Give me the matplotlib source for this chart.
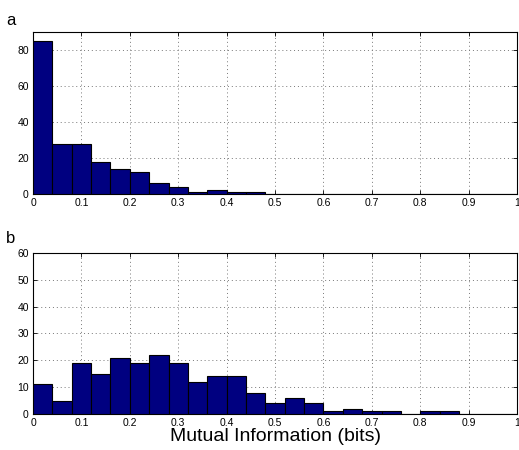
import matplotlib
matplotlib.use('Agg')
import matplotlib.pyplot as plt
import numpy as np

plt.rcParams['font.family'] = ['Liberation Sans', 'DejaVu Sans']

# histogram bins (width 0.04) and counts
bin_edges = [round(0.04 * i, 2) for i in range(26)]
counts_a = [85, 28, 28, 18, 14, 12, 6, 4, 1, 2, 1, 1, 0,
            0, 0, 0, 0, 0, 0, 0, 0, 0, 0, 0, 0]
counts_b = [11, 5, 19, 15, 21, 19, 22, 19, 12, 14, 14, 8, 4,
            6, 4, 1, 2, 1, 1, 0, 1, 1, 0, 0, 0]
xticks = [0, 0.1, 0.2, 0.3, 0.4, 0.5, 0.6, 0.7, 0.8, 0.9, 1]
xticklabels = ['0', '0.1', '0.2', '0.3', '0.4', '0.5', '0.6', '0.7', '0.8', '0.9', '1']
yticks_a = [0, 20, 40, 60, 80]
yticks_b = [0, 10, 20, 30, 40, 50, 60]

fig = plt.figure(figsize=(5.19, 4.5), dpi=100)
ax_a = fig.add_axes([0.0636, 0.569, 0.9326, 0.36])
ax_b = fig.add_axes([0.0636, 0.080, 0.9326, 0.358])


def draw_panel(ax, counts, ylim, yticks):
    left = np.array(bin_edges[:-1])
    width = np.diff(bin_edges)
    ax.bar(left, counts, width=width, align='edge', color='#000080',
           edgecolor='black', linewidth=0.8, zorder=3)
    ax.set_xlim(0, 1)
    ax.set_ylim(*ylim)
    ax.set_xticks(xticks)
    ax.set_xticklabels(xticklabels)
    ax.set_yticks(yticks)
    ax.grid(True, linestyle=(0, (1, 3)), color='#777777', linewidth=0.7, zorder=0)
    ax.tick_params(direction='in', top=True, right=True, labelsize=7.5,
                   length=3, width=0.6, pad=3)
    for s in ax.spines.values():
        s.set_linewidth(0.8)


draw_panel(ax_a, counts_a, (0, 90), yticks_a)
draw_panel(ax_b, counts_b, (0, 60), yticks_b)

ax_b.set_xlabel('Mutual Information (bits)', fontsize=14, labelpad=0)
fig.text(0.012, 0.955, 'a', fontsize=12, va='center')
fig.text(0.012, 0.47, 'b', fontsize=12, va='center')

fig.savefig('out.png', dpi=100)
